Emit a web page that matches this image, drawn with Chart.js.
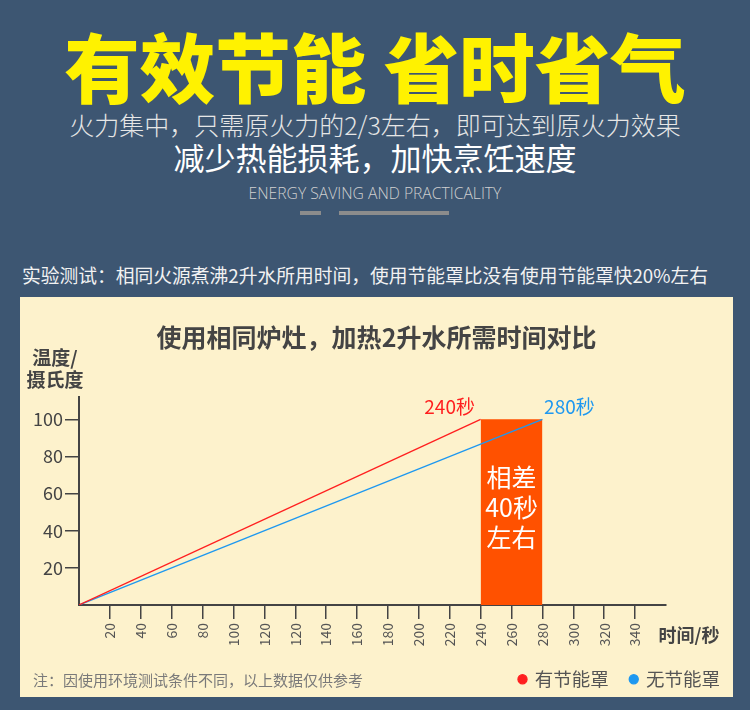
<!DOCTYPE html>
<html><head><meta charset="utf-8">
<script src="https://cdn.jsdelivr.net/npm/chart.js@4.4.1/dist/chart.umd.min.js"></script>
<style>
html,body{margin:0;padding:0;}
body{width:750px;height:710px;background:#3d5672;position:relative;overflow:hidden;font-family:"Noto Sans CJK SC","Noto Sans",sans-serif;}
.t{position:absolute;left:0;width:750px;text-align:center;white-space:nowrap;}
#h1{top:24px;height:80px;line-height:80px;font-size:75.5px;font-weight:900;color:#fff200;}
#h2{top:109px;height:30px;line-height:30px;font-size:25px;font-weight:300;color:#e6e6e6;}
#h3{top:140px;height:34px;line-height:34px;font-size:31px;font-weight:400;color:#ffffff;}
#h4{top:183px;height:20px;line-height:20px;font-size:15.7px;font-weight:300;color:#d0d0d0;font-family:"Open Sans","Noto Sans",sans-serif;}
.bar{position:absolute;top:211px;height:4px;background:#8c8c8c;}
#h5{top:263px;left:22px;width:auto;text-align:left;height:24px;line-height:24px;font-size:18.75px;color:#f2f2f2;}
#panel{position:absolute;left:20px;top:297px;width:713px;height:400px;background:#fdf2cc;}
#c{position:absolute;left:20px;top:297px;}
#note{position:absolute;left:33px;top:670px;height:20px;line-height:20px;font-size:15px;color:#7a7a7a;white-space:nowrap;}
</style></head><body>
<div class="t" id="h1">有效节能 省时省气</div>
<div class="t" id="h2">火力集中，只需原火力的2/3左右，即可达到原火力效果</div>
<div class="t" id="h3">减少热能损耗，加快烹饪速度</div>
<div class="t" id="h4">ENERGY SAVING AND PRACTICALITY</div>
<div class="bar" style="left:300px;width:21px;"></div>
<div class="bar" style="left:339px;width:110px;"></div>
<div class="t" id="h5">实验测试：相同火源煮沸2升水所用时间，使用节能罩比没有使用节能罩快20%左右</div>
<div id="panel"></div>
<canvas id="c" width="713" height="410"></canvas>
<div id="note">注：因使用环境测试条件不同，以上数据仅供参考</div>
<script>
// ---- data ----
const chartTitle = '使用相同炉灶，加热2升水所需时间对比';
const yTitle = ['温度/', '摄氏度'];
const xTitle = '时间/秒';
const xLabels = ['20','40','60','80','100','120','120','140','160','180','200','220','240','260','280','300','320','340'];
const yTicks = [20, 40, 60, 80, 100];
const seriesNames = ['有节能罩', '无节能罩'];
const withCoverTimes = [0, 240];      // seconds
const withCoverTemps = [0, 100];      // °C
const withoutCoverTimes = [0, 280];
const withoutCoverTemps = [0, 100];
const diffLabel = ['相差', '40秒', '左右'];
const endLabels = ['240秒', '280秒'];

// axis position of a time value, following the printed tick labels
const pos = t => t === 0 ? 0 : xLabels.indexOf(String(t)) + 1;
const pts = (ts, vs) => ts.map((t, i) => ({ x: pos(t), y: vs[i] }));

const RED = '#ff1f1f', BLUE = '#1e98f0', ORANGE = '#ff5100';
Chart.defaults.font.family = '"Noto Sans CJK SC","Noto Sans",sans-serif';

const annot = {
  id: 'annot',
  afterDraw(chart) {
    const { ctx, scales: { x, y } } = chart;
    ctx.save();
    ctx.textBaseline = 'middle';
    ctx.textAlign = 'center';
    ctx.fillStyle = '#444';
    ctx.font = 'bold 19px "Noto Sans CJK SC"';
    ctx.fillText(yTitle[0], 35, 61);
    ctx.fillText(yTitle[1], 35, 83);
    ctx.font = 'bold 18px "Noto Sans CJK SC"';
    ctx.fillText(xTitle, x.right + 23, x.top + 30);
    const x1 = x.getPixelForValue(pos(withCoverTimes[1]));
    const x2 = x.getPixelForValue(pos(withoutCoverTimes[1]));
    const yt = y.getPixelForValue(100);
    ctx.font = '19px "Noto Sans CJK SC"';
    ctx.fillStyle = RED;
    ctx.fillText(endLabels[0], x1 - 31, yt - 13);
    ctx.fillStyle = BLUE;
    ctx.fillText(endLabels[1], x2 + 27, yt - 13);
    ctx.fillStyle = '#ffffff';
    ctx.font = '25px "Noto Sans CJK SC"';
    diffLabel.forEach((s, i) => ctx.fillText(s, (x1 + x2) / 2, yt + 58 + i * 30));
    ctx.restore();
  }
};

new Chart(document.getElementById('c'), {
  type: 'line',
  data: {
    datasets: [
      { label: seriesNames[0], data: pts(withCoverTimes, withCoverTemps), borderColor: RED, backgroundColor: RED,
        borderWidth: 1.3, pointRadius: 0, pointStyle: 'circle', fill: false },
      { label: seriesNames[1], data: pts(withoutCoverTimes, withoutCoverTemps), borderColor: BLUE, backgroundColor: BLUE,
        borderWidth: 1.3, pointRadius: 0, pointStyle: 'circle', fill: false },
      { label: 'diff', data: pts([withCoverTimes[1], withoutCoverTimes[1]], [100, 100]), borderWidth: 0,
        borderColor: ORANGE, backgroundColor: ORANGE, pointRadius: 0, fill: 'origin' }
    ]
  },
  options: {
    responsive: false,
    animation: false,
    layout: { padding: { left: -9, right: -9, top: 0, bottom: 8.5 } },
    plugins: {
      title: { display: true, text: chartTitle, color: '#444', font: { size: 25, weight: 'bold' },
        padding: { top: 25, bottom: 45 } },
      legend: { display: true, position: 'bottom', align: 'end',
        labels: { usePointStyle: true, boxWidth: 6, boxHeight: 6.4, padding: 22, color: '#555', font: { size: 18.5 },
          filter: item => item.datasetIndex < 2 } },
      tooltip: { enabled: false }
    },
    scales: {
      x: { type: 'linear', min: 0, max: 19,
        afterBuildTicks: s => { s.ticks = xLabels.map((_, i) => ({ value: i + 1 })); },
        afterFit: s => { s.height = 43; },
        ticks: { autoSkip: false, minRotation: 90, maxRotation: 90, padding: 4, color: '#555', font: { size: 14 },
          callback: (v, i) => xLabels[i] },
        grid: { drawOnChartArea: false, tickLength: 14, color: '#444', lineWidth: 1.5 },
        border: { display: true, color: '#444', width: 2 } },
      y: { type: 'linear', min: 0, max: 112,
        afterBuildTicks: s => { s.ticks = yTicks.map(v => ({ value: v })); },
        afterFit: s => { s.width = 68; },
        ticks: { padding: 2, color: '#444', font: { size: 18 } },
        grid: { drawOnChartArea: false, tickLength: 14, color: '#444', lineWidth: 1.5 },
        border: { display: true, color: '#444', width: 2 } },
      r: { type: 'linear', position: 'right', display: true,
        afterFit: s => { s.width = 76; },
        ticks: { display: false }, grid: { display: false }, border: { display: false } }
    }
  },
  plugins: [annot]
});
</script>
</body></html>
